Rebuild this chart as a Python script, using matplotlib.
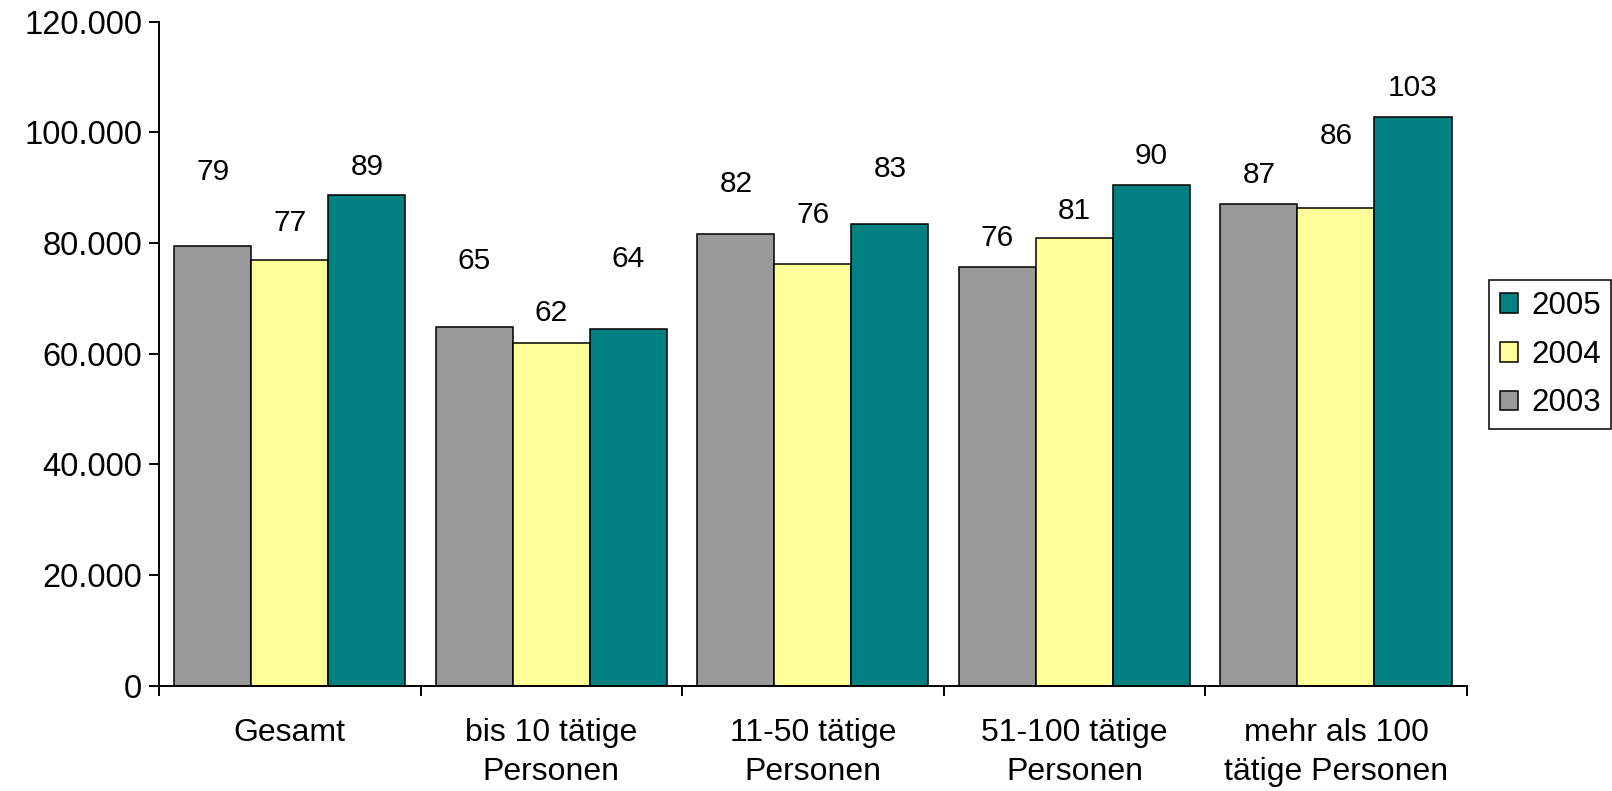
import matplotlib.pyplot as plt
import numpy as np
from matplotlib.ticker import FuncFormatter

categories = ["Gesamt", "bis 10 tätige\nPersonen", "11-50 tätige\nPersonen",
              "51-100 tätige\nPersonen", "mehr als 100\ntätige Personen"]
years = ["2003", "2004", "2005"]
v2003 = [79400, 64800, 81600, 75700, 87100]
v2004 = [76900, 61900, 76200, 80900, 86300]
v2005 = [88600, 64400, 83400, 90400, 102800]
# where the value labels sit (as placed by hand in the original)
lab2003 = [92800, 76800, 90600, 80900, 92300]
lab2004 = [83600, 67300, 85100, 85700, 99400]
lab2005 = [93700, 77200, 93400, 95800, 108100]

colors = ["#999999", "#FFFF99", "#008080"]

fig = plt.figure(figsize=(16.12, 7.91), dpi=100)
ax = fig.add_axes([0.0986, 0.1331, 0.8113, 0.8395])

x = np.arange(len(categories))
w = 0.2945
series = [v2003, v2004, v2005]
labels_y = [lab2003, lab2004, lab2005]
bars = []
for i, (vals, col, yr) in enumerate(zip(series, colors, years)):
    b = ax.bar(x + (i - 1) * w, vals, w, color=col, edgecolor="black",
               linewidth=1.1, label=yr, zorder=2)
    bars.append(b)
    for xi, v, ly in zip(x + (i - 1) * w, vals, labels_y[i]):
        ax.text(xi, ly, str(int(round(v / 1000))), ha="center", va="center",
                fontsize=21.5, family="Liberation Sans")

ax.set_xlim(-0.5, len(categories) - 0.5)
ax.set_ylim(0, 120000)
ax.set_yticks(np.arange(0, 120001, 20000))
ax.yaxis.set_major_formatter(FuncFormatter(lambda v, p: f"{int(v):,}".replace(",", ".")))
for t in ax.get_yticklabels():
    t.set_fontsize(23.5)
    t.set_family("Liberation Sans")

# category boundaries get the ticks, names sit in between
ax.set_xticks(np.arange(-0.5, len(categories), 1.0))
ax.set_xticklabels([])
ax.set_xticks(x, minor=True)
ax.set_xticklabels(categories, minor=True, fontsize=23, family="Liberation Sans",
                   linespacing=1.42)
ax.tick_params(axis="x", which="minor", length=0, pad=23)
ax.tick_params(axis="x", which="major", length=7, width=1.4, direction="out")
ax.tick_params(axis="y", length=7, width=1.4, direction="out", pad=5)

for s in ["top", "right"]:
    ax.spines[s].set_visible(False)
for s in ["left", "bottom"]:
    ax.spines[s].set_linewidth(1.4)

handles = [bars[2], bars[1], bars[0]]
leg = fig.legend(handles, ["2005", "2004", "2003"], loc="upper left",
                 bbox_to_anchor=(1488.7 / 1612, 1 - 280 / 791), borderaxespad=0,
                 prop={"family": "Liberation Sans", "size": 22.5}, fancybox=False,
                 edgecolor="black", framealpha=1, handlelength=0.6,
                 handleheight=0.6, handletextpad=0.4, labelspacing=0.6,
                 borderpad=0.35)
leg.get_frame().set_linewidth(1.1)

fig.savefig("out.png", dpi=100)
